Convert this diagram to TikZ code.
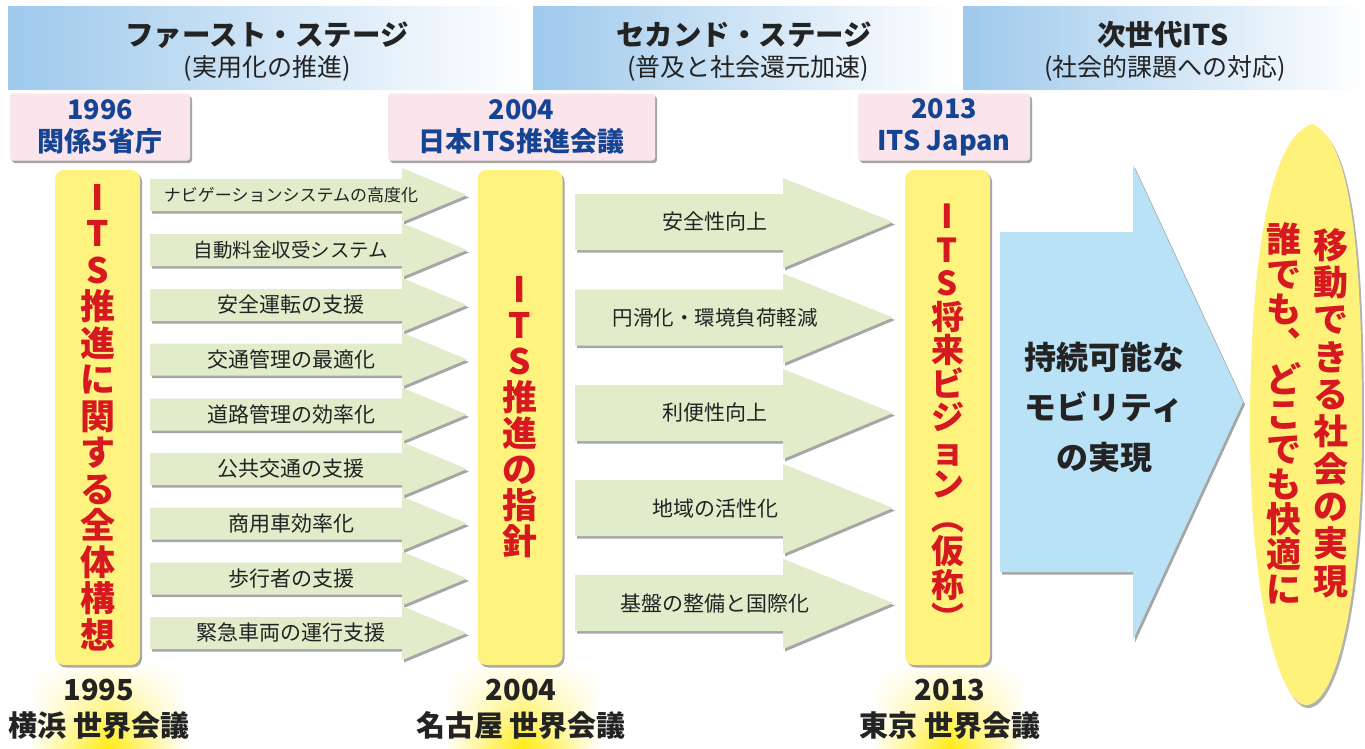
\documentclass[tikz,border=0pt]{standalone}
\usepackage{fontspec}
\setmainfont{Noto Sans CJK JP}
\usetikzlibrary{shadows,fadings}
\definecolor{hdrblue}{RGB}{158,201,236}
\definecolor{pinkbox}{RGB}{251,229,237}
\definecolor{ybar}{RGB}{255,243,128}
\definecolor{yegg}{RGB}{255,242,122}
\definecolor{garrow}{RGB}{226,236,202}
\definecolor{barrow}{RGB}{185,226,246}
\definecolor{redtxt}{RGB}{214,24,32}
\definecolor{bluetxt}{RGB}{22,68,148}
\definecolor{darktxt}{RGB}{35,35,35}
\definecolor{glowy}{RGB}{255,236,20}
\tikzset{
  shad/.style={drop shadow={shadow xshift=2pt,shadow yshift=-2.5pt,opacity=0.35,fill=black}},
  hdr/.style={left color=hdrblue,right color=white},
  htitle/.style={inner sep=0pt,text=darktxt,font=\bfseries\fontsize{28.5}{30}\selectfont},
  hsub/.style={inner sep=0pt,text=darktxt,font=\fontsize{25}{26}\selectfont},
  pinkb/.style={fill=pinkbox,rounded corners=3pt,shad,minimum height=67pt,inner sep=0pt,align=center,text=bluetxt,font=\bfseries\fontsize{27}{32}\selectfont},
  ybarb/.style={fill=ybar,rounded corners=9pt,shad,minimum width=85pt,minimum height=495pt,inner sep=0pt,align=center,text=redtxt},
  garr/.style={fill=garrow,shad},
  gtxt/.style={text=darktxt,inner sep=0pt},
  yrlabel/.style={inner sep=0pt,align=center,text=darktxt,font=\bfseries\fontsize{29}{36}\selectfont},
  vtxt/.style={inner sep=0pt,align=center,text=redtxt},
}
\begin{document}
\begin{tikzpicture}[x=1pt,y=-1pt]
\useasboundingbox (0,0) rectangle (1365,748);
\fill[white] (0,0) rectangle (1365,748);

% yellow egg shape (drawn early, manual shadow)
\path[fill=black!30] (1314,127) .. controls (1264,143) and (1252,300) .. (1252,433)
   .. controls (1252,603) and (1282,708) .. (1308,708)
   .. controls (1338,708) and (1364,603) .. (1364,433)
   .. controls (1364,300) and (1360,143) .. (1314,127) -- cycle;
\path[fill=yegg] (1312,124) .. controls (1262,140) and (1250,300) .. (1250,430)
   .. controls (1250,600) and (1280,705) .. (1306,705)
   .. controls (1336,705) and (1362,600) .. (1362,430)
   .. controls (1362,300) and (1358,140) .. (1312,124) -- cycle;

% header bars
\shade[hdr] (8,6) rectangle (526,89);
\shade[hdr] (533,6) rectangle (957,89);
\shade[hdr] (963,6) rectangle (1365,89);
\node[htitle] (h1t) at (267,35) {ファースト・ステージ};
\node[hsub] (h1s) at (267,68) {(実用化の推進)};
\node[htitle] (h2t) at (744,35) {セカンド・ステージ};
\node[hsub] (h2s) at (748,68) {(普及と社会還元加速)};
\node[htitle] (h3t) at (1163,35) {次世代ITS};
\node[hsub] (h3s) at (1165,68) {(社会的課題への対応)};

% pink boxes
\node[pinkb,minimum width=180pt] (p1996) at (100,127) {1996\\関係5省庁};
\node[pinkb,minimum width=267pt] (p2004) at (521.5,127) {2004\\日本ITS推進会議};
\node[pinkb,minimum width=172pt] (p2013) at (944,127) {2013\\ITS Japan};

% left green arrows
\foreach \cy/\fs/\t [count=\i] in {195/17/ナビゲーションシステムの高度化,
  250/19.5/自動料金収受システム, 305/21/安全運転の支援, 359.5/21/交通管理の最適化,
  414.5/21/道路管理の効率化, 469/21/公共交通の支援, 523.5/21/商用車効率化,
  578.5/21/歩行者の支援, 633/21/緊急車両の運行支援}{
  \fill[garr] (150,\cy-16) -- (402,\cy-16) -- (402,\cy-27) -- (467,\cy)
     -- (402,\cy+27) -- (402,\cy+16) -- (150,\cy+16) -- cycle;
  \node[gtxt,font=\fontsize{\fs}{\fs}\selectfont] (la\i) at (291,\cy) {\t};
}

% right green arrows
\foreach \cy/\fs/\t [count=\i] in {222/21/安全性向上, 317.5/20.5/円滑化・環境負荷軽減,
  413/21/利便性向上, 508/21/地域の活性化, 603/21/基盤の整備と国際化}{
  \fill[garr] (575,\cy-28) -- (783,\cy-28) -- (783,\cy-44) -- (893,\cy)
     -- (783,\cy+46) -- (783,\cy+28) -- (575,\cy+28) -- cycle;
  \node[gtxt,font=\fontsize{\fs}{\fs}\selectfont] (ra\i) at (715,\cy) {\t};
}

% yellow vertical bars
\node[ybarb,font=\bfseries\fontsize{35}{36.5}\selectfont] (barA) at (97.5,417.5)
  {I\\T\\S\\推\\進\\に\\関\\す\\る\\全\\体\\構\\想};
\node[ybarb,font=\bfseries\fontsize{35}{36}\selectfont] (barB) at (520,417.5)
  {I\\T\\S\\推\\進\\の\\指\\針};
\node[ybarb,font=\bfseries\fontsize{33}{33.5}\selectfont] (barC) at (947.5,417.5)
  {I\\T\\S\\将\\来\\ビ\\ジ\\ョ\\ン\\︵\\仮\\称\\︶};

% big blue arrow
\fill[barrow,shad] (1000,232) -- (1133,232) -- (1133,165) -- (1243,402)
   -- (1133,640) -- (1133,572) -- (1000,572) -- cycle;
\node[inner sep=0pt,align=center,text=darktxt,font=\bfseries\fontsize{32}{50}\selectfont]
  (sust) at (1104,407) {持続可能な\\モビリティ\\の実現};

% texts in the egg
\node[vtxt,font=\bfseries\fontsize{35}{37.3}\selectfont] (goal1) at (1331,413)
  {移\\動\\で\\き\\る\\社\\会\\の\\実\\現};
\node[vtxt,font=\bfseries\fontsize{35}{35}\selectfont] (goal2) at (1284,413)
  {誰\\で\\も\\︑\\ど\\こ\\で\\も\\快\\適\\に};

% bottom glows and labels
\foreach \cx in {108,523,950}{
  \shade[left color=white,right color=white,middle color=glowy,path fading=north]
     (\cx-78,662) rectangle (\cx+78,748);
}
\node[yrlabel] (w1995) at (99,709) {1995\\横浜 世界会議};
\node[yrlabel] (w2004) at (521,709) {2004\\名古屋 世界会議};
\node[yrlabel] (w2013) at (950,709) {2013\\東京 世界会議};
\end{tikzpicture}
\end{document}
